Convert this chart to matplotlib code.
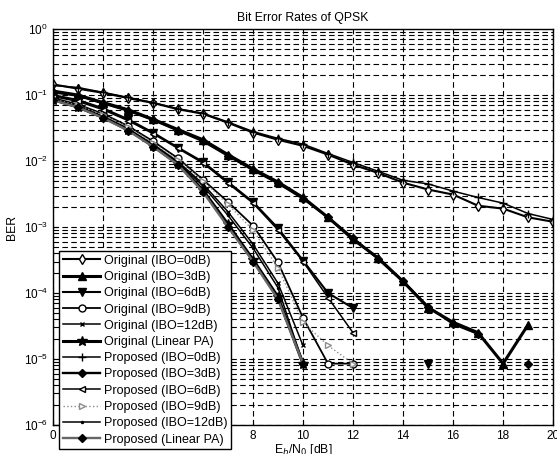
import numpy as np
import matplotlib
matplotlib.use("Agg")
import matplotlib.pyplot as plt

plt.rcParams["font.family"] = ["Liberation Sans", "DejaVu Sans"]

nan = np.nan

# Eb/N0 [dB] grids for each series
x_0_20 = list(range(0, 21))
x_0_19 = list(range(0, 20))
x_0_15 = list(range(0, 16))
x_0_12 = list(range(0, 13))
x_0_10 = list(range(0, 11))

orig_ibo0 = [0.145, 0.125, 0.108, 0.09, 0.076, 0.061, 0.052, 0.038, 0.027, 0.021, 0.017,
             0.0125, 0.0088, 0.0066, 0.0047, 0.0037, 0.0031, 0.0021, 0.0019, 0.0014, 0.0012]
prop_ibo0 = [0.14, 0.13, 0.11, 0.092, 0.077, 0.062, 0.053, 0.039, 0.028, 0.022, 0.018,
             0.013, 0.0095, 0.007, 0.0051, 0.0045, 0.0035, 0.0028, 0.0023, 0.0016, 0.0013]

orig_ibo3 = [0.115, 0.1, 0.077, 0.06, 0.043, 0.03, 0.021, 0.0125, 0.0076, 0.0048, 0.0028,
             0.0014, 6.5e-4, 3.4e-4, 1.5e-4, 6e-5, 3.6e-5, 2.5e-5, 8.5e-6, 3.3e-5]
prop_ibo3 = [0.11, 0.098, 0.075, 0.058, 0.042, 0.029, 0.02, 0.012, 0.0073, 0.0046, 0.0027,
             0.0014, 6.8e-4, 3.3e-4, 1.5e-4, 6.2e-5, 3.4e-5, 2.4e-5, nan, 8.5e-6]

orig_ibo6 = [0.1, 0.084, 0.063, 0.043, 0.027, 0.016, 0.0097, 0.0048, 0.0024, 9.6e-4, 3.1e-4,
             1.0e-4, 5.9e-5, nan, nan, 8.5e-6]
prop_ibo6 = [0.095, 0.08, 0.06, 0.041, 0.026, 0.0155, 0.0093, 0.0046, 0.0023, 9e-4, 3.0e-4,
             8.5e-5, 2.5e-5]

orig_ibo9 = [0.09, 0.072, 0.052, 0.034, 0.02, 0.011, 0.0052, 0.0024, 1.05e-3, 2.9e-4, 4.2e-5,
             8.5e-6, 8.5e-6]
prop_ibo9 = [0.088, 0.07, 0.05, 0.033, 0.019, 0.0105, 0.005, 0.0022, 9e-4, 2.4e-4, 3.6e-5,
             1.6e-5, 8.5e-6]

orig_ibo12 = [0.087, 0.068, 0.048, 0.031, 0.018, 0.0098, 0.0045, 0.0017, 5.5e-4, 1.4e-4, 1.6e-5]
prop_ibo12 = [0.086, 0.067, 0.047, 0.03, 0.0175, 0.0095, 0.0042, 0.0015, 4.8e-4, 1.2e-4, 8.5e-6]

orig_lin = [0.085, 0.066, 0.046, 0.03, 0.017, 0.009, 0.0036, 0.0011, 3.2e-4, 8.7e-5, 8.5e-6]
prop_lin = [0.084, 0.065, 0.045, 0.029, 0.0165, 0.0088, 0.0034, 0.001, 3e-4, 8e-5, 8.5e-6]

x_ticks = list(range(0, 21, 2))

fig = plt.figure(figsize=(5.57, 4.54), dpi=100)
ax = fig.add_axes([0.095, 0.064, 0.898, 0.872])

series = [
    (x_0_20, orig_ibo0, "Original (IBO=0dB)", dict(color="k", lw=1.5, marker="d", ms=5, mfc="white", mec="k")),
    (x_0_19, orig_ibo3, "Original (IBO=3dB)", dict(color="k", lw=2.2, marker="^", ms=6, mfc="k", mec="k")),
    (x_0_15, orig_ibo6, "Original (IBO=6dB)", dict(color="k", lw=1.5, marker="v", ms=6, mfc="k", mec="k")),
    (x_0_12, orig_ibo9, "Original (IBO=9dB)", dict(color="k", lw=1.3, marker="o", ms=5, mfc="white", mec="k")),
    (x_0_10, orig_ibo12, "Original (IBO=12dB)", dict(color="k", lw=1.1, marker="x", ms=3, mec="k")),
    (x_0_10, orig_lin, "Original (Linear PA)", dict(color="k", lw=2.2, marker="*", ms=7, mfc="k", mec="k")),
    (x_0_20, prop_ibo0, "Proposed (IBO=0dB)", dict(color="k", lw=1.1, marker="+", ms=6, mec="k")),
    (x_0_19, prop_ibo3, "Proposed (IBO=3dB)", dict(color="k", lw=1.7, marker="D", ms=4, mfc="k", mec="k")),
    (x_0_12, prop_ibo6, "Proposed (IBO=6dB)", dict(color="k", lw=1.1, marker="<", ms=5, mfc="white", mec="k")),
    (x_0_12, prop_ibo9, "Proposed (IBO=9dB)", dict(color="0.55", lw=1.0, ls=":", marker=">", ms=5, mfc="white", mec="0.55")),
    (x_0_10, prop_ibo12, "Proposed (IBO=12dB)", dict(color="k", lw=1.1, marker=".", ms=3, mec="k")),
    (x_0_10, prop_lin, "Proposed (Linear PA)", dict(color="0.4", lw=1.7, marker="D", ms=4, mfc="k", mec="k")),
]

for xs, ys, label, style in series:
    ax.semilogy(xs, ys, label=label, **style)

ax.set_xlim(0, 20)
ax.set_ylim(1e-6, 1)
ax.set_xticks(x_ticks)
ax.grid(True, which="major", axis="both", color="k", ls=(0, (5, 3)), lw=0.8)
ax.grid(True, which="minor", axis="y", color="k", ls=(0, (5, 3)), lw=0.8)
ax.tick_params(labelsize=8.5, direction="in", which="both")
for sp in ax.spines.values():
    sp.set_linewidth(1.0)

ax.set_title("Bit Error Rates of QPSK", fontsize=8.8, pad=6)
ax.set_xlabel(r"E$_b$/N$_0$ [dB]", fontsize=8.8, labelpad=0)
ax.set_ylabel("BER", fontsize=8.8, labelpad=4)

leg = ax.legend(loc="upper left", bbox_to_anchor=(59 / 557, 1 - 251 / 454),
                bbox_transform=fig.transFigure, fontsize=9, handlelength=3.0,
                labelspacing=0.34, borderpad=0.3, handletextpad=0.3,
                frameon=True, fancybox=False, framealpha=1.0, borderaxespad=0)
leg.get_frame().set_edgecolor("k")
leg.get_frame().set_linewidth(1.0)
leg.set_zorder(10)

fig.savefig("out.png", dpi=100)
